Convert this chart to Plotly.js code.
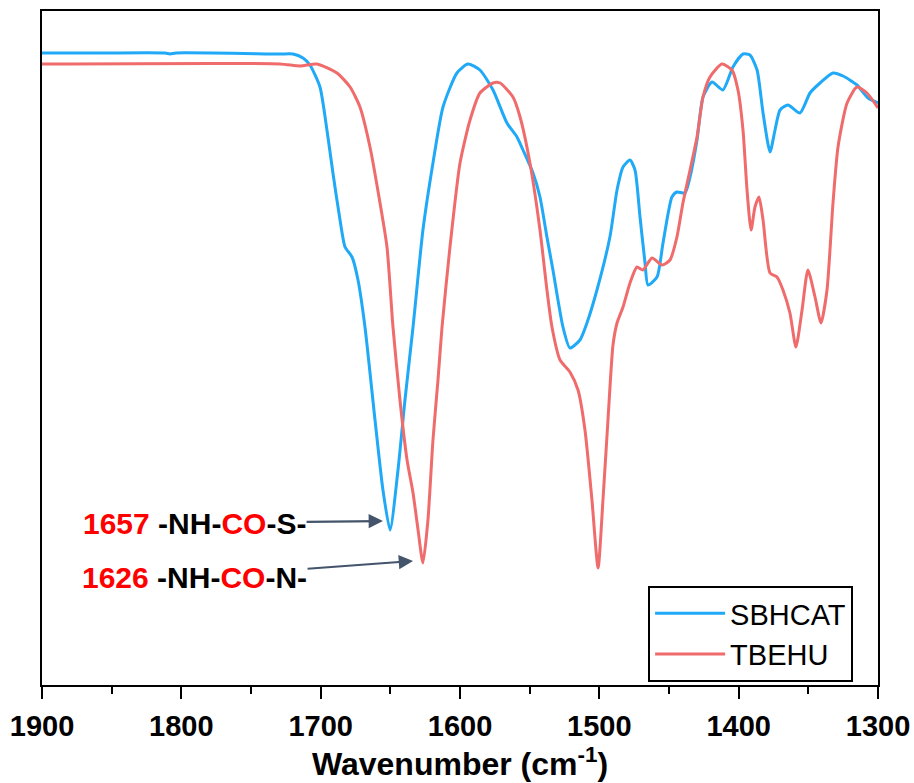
<!DOCTYPE html>
<html>
<head>
<meta charset="utf-8">
<script src="https://cdn.plot.ly/plotly-3.0.1.min.js"></script>
<style>html,body{margin:0;padding:0;background:#fff;}#chart{width:914px;height:783px;}</style>
</head>
<body>
<div id="chart"></div>
<script>
// Wavenumber (cm-1) and transmittance (a.u.)
const sbhcatWn = [1900,1858.4,1811.7,1808.1,1803.8,1729.2,1719.9,1712.7,1707.7,1700.5,1695.5,1691.2,1686.1,1682.5,1677.5,1673.2,1668.2,1661.0,1655.3,1650.2,1644.5,1639.5,1633.7,1626.6,1619.4,1612.2,1602.2,1594.3,1585.7,1576.3,1566.3,1559.1,1554.8,1547.6,1542.6,1537.6,1533.3,1526.1,1521.1,1513.9,1508.9,1501.7,1492.4,1487.3,1483.0,1478.0,1474.4,1470.8,1467.2,1465.1,1458.6,1454.3,1447.9,1444.3,1438.5,1434.9,1429.9,1425.6,1419.1,1411.3,1404.1,1396.9,1391.9,1386.8,1382.5,1377.5,1373.9,1370.3,1364.6,1356.0,1348.8,1341.6,1332.3,1325.1,1315.1,1307.2,1300];
const sbhcatT = [632,632,632,631,632,631,631,627,620,598,555,512,465,438,428,405,358,265,195,155,215,285,358,455,522,578,612,621,615,595,562,548,535,512,488,448,415,358,337,345,362,395,448,495,518,525,515,468,422,400,408,442,488,493,492,508,545,588,603,595,618,631,630,615,572,533,555,575,580,572,592,602,612,609,600,587,582];

const tbehuWn = [1900,1729.2,1714.8,1702.6,1688.3,1678.9,1671.8,1664.6,1657.4,1652.4,1648.1,1643.1,1638.0,1633.7,1630.1,1626.6,1623.0,1619.4,1615.8,1612.9,1607.2,1600.0,1592.8,1585.7,1576.3,1571.3,1562.0,1556.9,1549.8,1542.6,1537.6,1534.0,1528.2,1521.1,1515.3,1510.3,1505.3,1500.9,1497.4,1493.8,1490.2,1487.3,1483.0,1478.0,1473.0,1468.7,1462.2,1455.0,1449.3,1444.3,1440.0,1434.9,1429.9,1425.6,1420.6,1412.0,1404.8,1400.5,1396.9,1394.0,1391.1,1388.3,1385.4,1382.5,1377.5,1372.5,1368.2,1363.2,1358.9,1354.5,1350.3,1345.2,1340.9,1336.6,1332.3,1328.7,1322.2,1315.1,1307.9,1300];
const tbehuT = [621,621,619,621,612,598,578,538,482,438,358,285,225,192,155,122,165,245,305,358,438,522,565,592,602,602,588,568,522,455,395,358,325,313,295,255,185,117,185,265,340,362,378,402,418,415,427,420,425,448,482,515,548,588,608,621,615,595,555,495,455,478,488,465,412,408,395,372,338,375,415,388,362,395,482,538,582,598,592,577];

const seriesNames = ["SBHCAT", "TBEHU"];
const xTicks = [1900,1800,1700,1600,1500,1400,1300];

// Peak labels and the band each arrow points at
const peakLabels = ["1657", "1626"];
const peakGroups = ["S", "N"];
const peakX = [1655.3, 1633.7];
const peakY = [164, 124];
const labelX = [1790.5, 1790.5];
const labelY = [162, 108];

const blue = "#1fa9f6";
const red = "#f06b6b";

const traces = [
  {x: sbhcatWn, y: sbhcatT, name: seriesNames[0], type: "scatter", mode: "lines",
   line: {color: blue, width: 3, shape: "spline", smoothing: 0.6}},
  {x: tbehuWn, y: tbehuT, name: seriesNames[1], type: "scatter", mode: "lines",
   line: {color: red, width: 3, shape: "spline", smoothing: 0.6}}
];

const annotations = [];
for (let i = 0; i < peakLabels.length; i++) {
  annotations.push({
    x: peakX[i], y: peakY[i], xref: "x", yref: "y",
    ax: labelX[i], ay: labelY[i], axref: "x", ayref: "y",
    showarrow: true, arrowhead: 2, arrowsize: 1.3, arrowwidth: 2.2,
    arrowcolor: "#44546a", standoff: 0, startstandoff: 0, borderpad: 0,
    text: '<b><span style="color:#ff0000">' + peakLabels[i] + '</span> -NH-<span style="color:#ff0000">CO</span>-' + peakGroups[i] + '-</b>',
    font: {family: "Liberation Sans, Arial, sans-serif", size: 30, color: "#000000"}
  });
}

const layout = {
  width: 914, height: 783,
  margin: {l: 42, r: 36, t: 11, b: 98},
  paper_bgcolor: "#ffffff", plot_bgcolor: "#ffffff",
  font: {family: "Liberation Sans, Arial, sans-serif", color: "#000000"},
  showlegend: true,
  legend: {
    x: 0.725, y: 0.147, xanchor: "left", yanchor: "top",
    bordercolor: "#000000", borderwidth: 2, bgcolor: "#ffffff",
    font: {size: 29, color: "#000000"}, itemwidth: 70, tracegroupgap: 0
  },
  xaxis: {
    range: [1900, 1300], tickvals: xTicks, ticktext: xTicks.map(String),
    ticks: "outside", ticklen: 12, tickwidth: 2, tickcolor: "#000000",
    minor: {dtick: 50, ticks: "outside", ticklen: 7, tickwidth: 2, tickcolor: "#000000", showgrid: false},
    showline: true, linecolor: "#000000", linewidth: 2, mirror: true,
    showgrid: false, zeroline: false,
    tickfont: {size: 29, color: "#000000", weight: "bold"},
    ticklabelstandoff: 2,
    title: {text: "<b>Wavenumber (cm<sup>-1</sup>)</b>", font: {size: 32, color: "#000000"}, standoff: 7}
  },
  yaxis: {
    range: [0, 674], showticklabels: false, ticks: "",
    showline: true, linecolor: "#000000", linewidth: 2, mirror: true,
    showgrid: false, zeroline: false
  },
  annotations: annotations
};

Plotly.newPlot("chart", traces, layout, {displayModeBar: false, staticPlot: true});
</script>
</body>
</html>
